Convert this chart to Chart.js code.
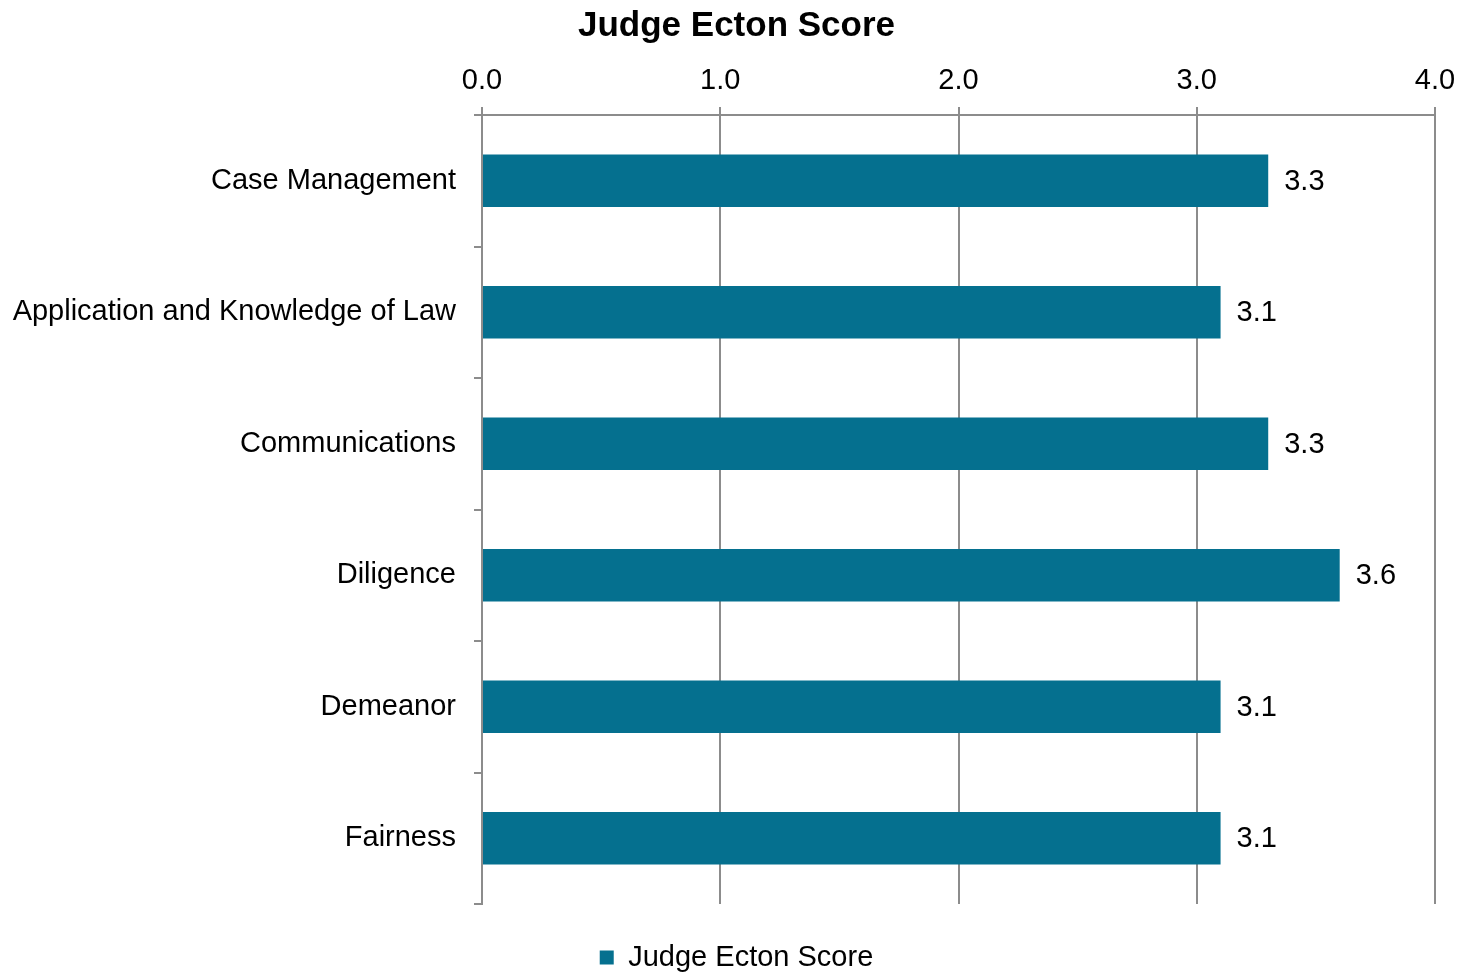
<!DOCTYPE html>
<html>
<head>
<meta charset="utf-8">
<script src="https://cdn.jsdelivr.net/npm/chart.js@4"></script>
<style>
  html, body { margin: 0; padding: 0; background: #fff; }
  #wrap { width: 1473px; height: 973px; }
</style>
</head>
<body>
<div id="wrap"><canvas id="scoreChart" width="1473" height="973"></canvas></div>
<script>
const categories = ['Case Management', 'Application and Knowledge of Law', 'Communications', 'Diligence', 'Demeanor', 'Fairness'];
const scores = [3.3, 3.1, 3.3, 3.6, 3.1, 3.1];
const seriesName = 'Judge Ecton Score';
const xTicks = [0, 1, 2, 3, 4];

const barColor = '#05708f';
const gridColor = '#8c8c8c';
const fontFamily = '"Liberation Sans", Arial, sans-serif';

// draws the value next to the end of each bar
const valueLabels = {
    id: 'valueLabels',
    afterDatasetsDraw(chart) {
        const ctx = chart.ctx;
        const meta = chart.getDatasetMeta(0);
        ctx.save();
        ctx.font = '29px ' + fontFamily;
        ctx.fillStyle = '#000';
        ctx.textAlign = 'left';
        ctx.textBaseline = 'middle';
        meta.data.forEach(function(bar, i) {
            ctx.fillText(scores[i].toFixed(1), bar.x + 16, bar.y + 1);
        });
        ctx.restore();
    }
};

// empty axes used only as spacers so title and legend stay centred on the page
const spacer = function(size, isWidth) {
    return {
        display: true,
        grid: { display: false },
        border: { display: false },
        ticks: { display: false },
        afterFit: function(scale) {
            if (isWidth) scale.width = size; else scale.height = size;
        }
    };
};

const ctx = document.getElementById('scoreChart').getContext('2d');
const chart = new Chart(ctx, {
    type: 'bar',
    data: {
        labels: categories,
        datasets: [{
            label: seriesName,
            data: scores,
            backgroundColor: barColor,
            borderWidth: 0,
            categoryPercentage: 1,
            barPercentage: 0.4
        }]
    },
    options: {
        indexAxis: 'y',
        responsive: false,
        animation: false,
        layout: { padding: { left: 0, right: 0, top: 0, bottom: -9 } },
        plugins: {
            title: {
                display: true,
                text: seriesName,
                color: '#000',
                font: { family: fontFamily, size: 35, weight: 'bold', lineHeight: 1.2 },
                padding: { top: 5, bottom: 0 }
            },
            legend: {
                display: true,
                position: 'bottom',
                labels: {
                    color: '#000',
                    font: { family: fontFamily, size: 29, lineHeight: 1 },
                    boxWidth: 14,
                    boxHeight: 14,
                    padding: 2
                }
            },
            tooltip: { enabled: false }
        },
        scales: {
            x: {
                position: 'top',
                min: 0,
                max: 4,
                afterBuildTicks: function(scale) {
                    scale.ticks = xTicks.map(function(v) { return { value: v }; });
                },
                ticks: {
                    color: '#000',
                    font: { family: fontFamily, size: 29 },
                    padding: 9,
                    callback: function(v) { return Number(v).toFixed(1); }
                },
                grid: { color: gridColor, lineWidth: 2, tickLength: 8 },
                border: { display: true, color: gridColor, width: 2 },
                afterFit: function(scale) { scale.height = 115 - 47; }
            },
            y: {
                offset: true,
                ticks: {
                    color: '#000',
                    font: { family: fontFamily, size: 29 },
                    padding: 18
                },
                grid: { display: true, drawOnChartArea: false, offset: true, color: gridColor, lineWidth: 2, tickLength: 8 },
                border: { display: true, color: gridColor, width: 2 },
                afterFit: function(scale) { scale.width = 482; }
            },
            padRight: Object.assign({ type: 'linear', axis: 'y', position: 'right' }, spacer(38, true)),
            padBottom: Object.assign({ type: 'linear', axis: 'x', position: 'bottom' }, spacer(37, false))
        }
    },
    plugins: [valueLabels]
});
</script>
</body>
</html>
